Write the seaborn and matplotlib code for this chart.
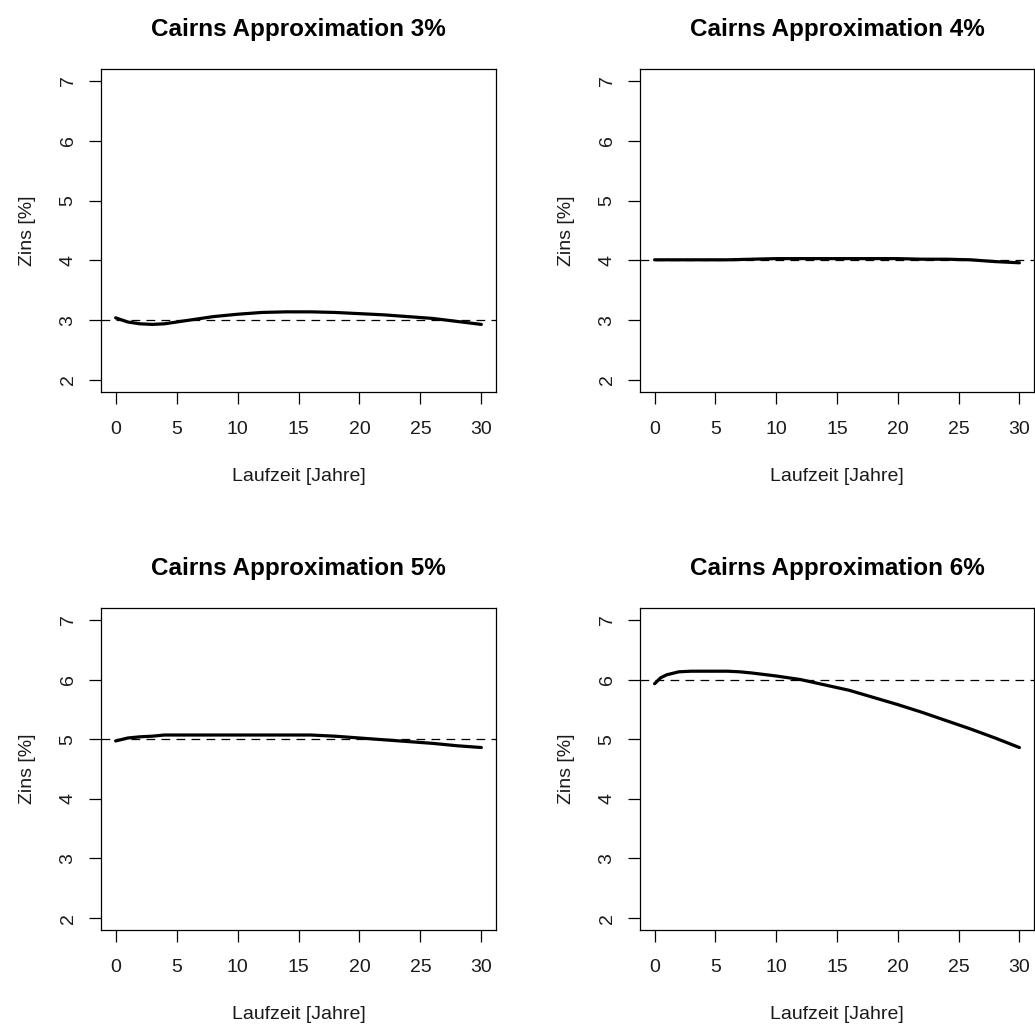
import numpy as np
import pandas as pd
import seaborn as sns
import matplotlib
matplotlib.use("Agg")
import matplotlib.pyplot as plt

# Laufzeit in Jahren und approximierter Zins je Panel
t3 = [0, 1, 2, 3, 4, 5, 6, 8, 10, 12, 14, 16, 18, 20, 22, 24, 26, 28, 30]
z3 = [3.04, 2.97, 2.94, 2.93, 2.94, 2.97, 3.00, 3.06, 3.10, 3.13, 3.14, 3.14,
      3.13, 3.11, 3.09, 3.06, 3.03, 2.98, 2.93]

t4 = [0, 2, 4, 6, 8, 10, 12, 14, 16, 18, 20, 22, 24, 26, 28, 30]
z4 = [4.01, 4.01, 4.01, 4.01, 4.02, 4.03, 4.03, 4.03, 4.03, 4.03, 4.03, 4.02,
      4.02, 4.01, 3.98, 3.96]

t5 = [0, 1, 2, 3, 4, 6, 8, 10, 12, 14, 16, 18, 20, 22, 24, 26, 28, 30]
z5 = [4.97, 5.02, 5.04, 5.05, 5.07, 5.07, 5.07, 5.07, 5.07, 5.07, 5.07, 5.05,
      5.02, 4.99, 4.96, 4.93, 4.89, 4.86]

t6 = [0, 0.5, 1, 2, 3, 4, 6, 7, 8, 10, 12, 14, 16, 18, 20, 22, 24, 26, 28, 30]
z6 = [5.93, 6.03, 6.08, 6.13, 6.14, 6.14, 6.14, 6.13, 6.11, 6.06, 6.00, 5.91,
      5.82, 5.70, 5.58, 5.45, 5.31, 5.17, 5.02, 4.86]

rates = [3, 4, 5, 6]
x_ticks = [0, 5, 10, 15, 20, 25, 30]
y_ticks = [2, 3, 4, 5, 6, 7]

panels = [
    (rates[0], t3, z3, [101 / 1035, 638 / 1030, 395 / 1035, 323 / 1030]),
    (rates[1], t4, z4, [640 / 1035, 638 / 1030, 394 / 1035, 323 / 1030]),
    (rates[2], t5, z5, [101 / 1035, 100 / 1030, 395 / 1035, 322 / 1030]),
    (rates[3], t6, z6, [640 / 1035, 100 / 1030, 394 / 1035, 322 / 1030]),
]

sns.set_style("white")
plt.rcParams["font.family"] = ["Liberation Sans", "DejaVu Sans"]

fig = plt.figure(figsize=(10.35, 10.30), dpi=100)

for rate, t, z, rect in panels:
    ax = fig.add_axes(rect)
    df = pd.DataFrame({"laufzeit": t, "zins": z})
    sns.lineplot(data=df, x="laufzeit", y="zins", color="black",
                 linewidth=2.3, ax=ax)
    ax.axhline(rate, color="black", linewidth=0.9, linestyle=(0, (7, 5)))

    ax.set_xlim(-1.2, 31.2)
    ax.set_ylim(1.8, 7.2)
    ax.set_xticks(x_ticks)
    ax.set_yticks(y_ticks)
    ax.tick_params(axis="both", bottom=True, left=True, direction="out",
                   length=8.6, width=0.9, color="black", labelsize=14,
                   labelcolor="#1a1a1a")
    ax.tick_params(axis="x", pad=12)
    ax.tick_params(axis="y", pad=9)
    for lab in ax.get_yticklabels():
        lab.set_rotation(90)
        lab.set_verticalalignment("center")
    for sp in ax.spines.values():
        sp.set_visible(True)
        sp.set_color("black")
        sp.set_linewidth(0.9)

    ax.set_title(f"Cairns Approximation {rate}%", fontsize=17.5,
                 fontweight="bold", pad=24, color="black")
    ax.set_xlabel("Laufzeit [Jahre]", fontsize=14, color="#1a1a1a")
    ax.set_ylabel("Zins [%]", fontsize=14, color="#1a1a1a")
    ax.xaxis.set_label_coords(0.5, -0.263)
    ax.yaxis.set_label_coords(-0.187, 0.5)
    ax.xaxis.label.set_verticalalignment("center")
    ax.yaxis.label.set_verticalalignment("center")

fig.savefig("out.png", dpi=100)
plt.close()
